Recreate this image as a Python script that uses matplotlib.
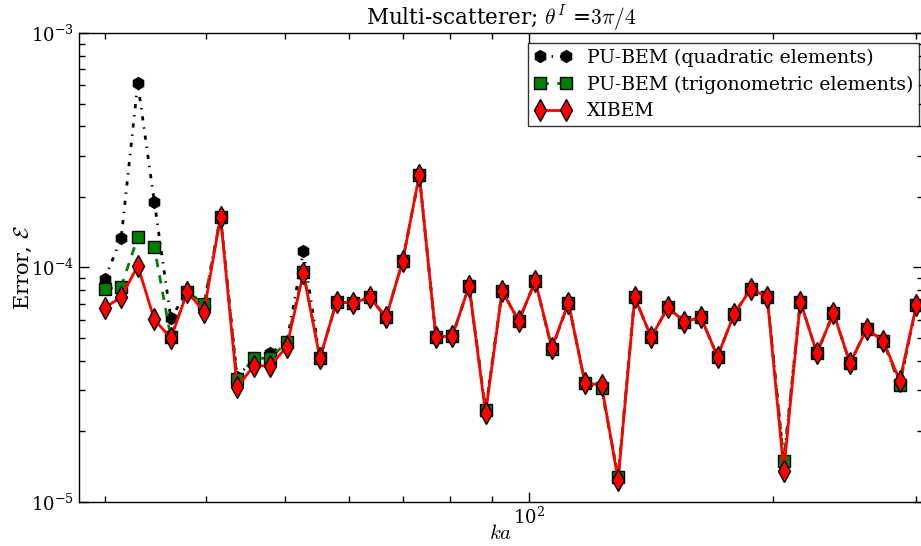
import matplotlib
matplotlib.use('Agg')
import matplotlib.pyplot as plt
from matplotlib.ticker import NullFormatter

plt.rcParams['font.family'] = ['DejaVu Serif']
plt.rcParams['mathtext.fontset'] = 'cm'

# wavenumber ka (log-spaced samples, 30 .. 300)
ka = [30.00, 31.44, 32.96, 34.54, 36.20, 37.94, 39.77, 41.68, 43.69, 45.79,
      47.99, 50.30, 52.72, 55.26, 57.92, 60.70, 63.62, 66.68, 69.89, 73.25,
      76.78, 80.47, 84.34, 88.40, 92.65, 97.11, 101.78, 106.68, 111.81, 117.19,
      122.83, 128.74, 134.93, 141.42, 148.23, 155.36, 162.83, 170.67, 178.88, 187.48,
      196.50, 205.96, 215.87, 226.25, 237.14, 248.55, 260.50, 273.04, 286.18, 300.00]

err_pu_quad = [8.91e-5, 1.33e-4, 6.10e-4, 1.91e-4, 6.07e-5, 7.9e-5, 7.0e-5, 1.65e-4, 3.4e-5, 4.1e-5,
               4.31e-5, 4.8e-5, 1.17e-4, 4.10e-5, 7.15e-5, 7.04e-5, 7.46e-5, 6.13e-5, 1.07e-4, 2.48e-4,
               5.04e-5, 5.10e-5, 8.36e-5, 2.47e-5, 7.94e-5, 5.91e-5, 8.76e-5, 4.48e-5, 7.08e-5, 3.21e-5,
               3.05e-5, 1.28e-5, 7.46e-5, 5.04e-5, 6.76e-5, 5.87e-5, 6.13e-5, 4.17e-5, 6.33e-5, 8.10e-5,
               7.51e-5, 1.50e-5, 7.15e-5, 4.31e-5, 6.41e-5, 3.90e-5, 5.47e-5, 4.87e-5, 3.16e-5, 6.92e-5]

err_pu_trig = [8.07e-5, 8.28e-5, 1.345e-4, 1.22e-4, 5.04e-5, 7.88e-5, 6.99e-5, 1.647e-4, 3.34e-5, 4.10e-5,
               4.10e-5, 4.80e-5, 9.60e-5, 4.10e-5, 7.15e-5, 7.04e-5, 7.46e-5, 6.13e-5, 1.07e-4, 2.48e-4,
               5.04e-5, 5.10e-5, 8.36e-5, 2.47e-5, 7.94e-5, 5.91e-5, 8.76e-5, 4.48e-5, 7.08e-5, 3.21e-5,
               3.05e-5, 1.28e-5, 7.46e-5, 5.04e-5, 6.76e-5, 5.87e-5, 6.13e-5, 4.17e-5, 6.33e-5, 8.10e-5,
               7.51e-5, 1.50e-5, 7.15e-5, 4.31e-5, 6.41e-5, 3.90e-5, 5.47e-5, 4.87e-5, 3.16e-5, 6.92e-5]

err_xibem = [6.74e-5, 7.46e-5, 1.018e-4, 6.01e-5, 4.99e-5, 7.88e-5, 6.48e-5, 1.647e-4, 3.08e-5, 3.81e-5,
             3.81e-5, 4.60e-5, 9.45e-5, 4.10e-5, 7.15e-5, 7.04e-5, 7.46e-5, 6.13e-5, 1.07e-4, 2.48e-4,
             5.04e-5, 5.10e-5, 8.36e-5, 2.39e-5, 7.94e-5, 5.91e-5, 8.76e-5, 4.55e-5, 7.08e-5, 3.21e-5,
             3.16e-5, 1.24e-5, 7.46e-5, 5.04e-5, 6.76e-5, 5.87e-5, 6.13e-5, 4.17e-5, 6.33e-5, 8.10e-5,
             7.51e-5, 1.36e-5, 7.15e-5, 4.31e-5, 6.41e-5, 3.90e-5, 5.47e-5, 4.87e-5, 3.29e-5, 6.92e-5]

labels = ['PU-BEM (quadratic elements)', 'PU-BEM (trigonometric elements)', 'XIBEM']


def create_plot():
    fig = plt.figure(figsize=(9.21, 5.46), dpi=100)
    # right spine sits just past the image edge, as in the original export
    ax = fig.add_axes([0.0858, 0.0806, 0.9164, 0.859])

    ax.plot(ka, err_pu_quad, color='k', linestyle=(0, (1.5, 2.5, 0.5, 2.5)), lw=2,
            marker='h', markersize=8.5, markerfacecolor='k', markeredgecolor='k',
            label=labels[0])
    ax.plot(ka, err_pu_trig, color='#008000', linestyle=(0, (3, 3)), lw=2,
            marker='s', markersize=9, markerfacecolor='#008000', markeredgecolor='k',
            markeredgewidth=1, label=labels[1])
    ax.plot(ka, err_xibem, color='r', linestyle='-', lw=2,
            marker='d', markersize=11, markerfacecolor='r', markeredgecolor='k',
            markeredgewidth=1, label=labels[2])

    ax.set_xscale('log')
    ax.set_yscale('log')
    ax.set_xlim(27.9, 305.7)
    ax.set_ylim(1e-5, 1e-3)
    ax.xaxis.set_minor_formatter(NullFormatter())
    ax.yaxis.set_minor_formatter(NullFormatter())

    ax.tick_params(which='both', direction='in', top=True, right=True, labelsize=13)
    ax.tick_params(which='major', length=7, width=1)
    ax.tick_params(which='minor', length=4, width=1)
    for s in ax.spines.values():
        s.set_linewidth(1)

    ax.set_title(r'Multi-scatterer; $\theta^I$ =$3\pi/4$', fontsize=15.5, pad=4)
    ax.set_xlabel(r'$ka$', fontsize=15, labelpad=-3)
    ax.set_ylabel(r'Error, $\mathcal{E}$', fontsize=15, labelpad=-2)

    leg = ax.legend(loc='upper right', bbox_to_anchor=(919 / 921, 1 - 43 / 546),
                    bbox_transform=fig.transFigure, borderaxespad=0,
                    numpoints=2, fontsize=13.6, fancybox=False,
                    handlelength=2.0, handletextpad=0.8, labelspacing=0.45,
                    borderpad=0.3)
    leg.get_frame().set_edgecolor('k')
    leg.get_frame().set_linewidth(1)

    plt.savefig('out.png', dpi=100)


def main():
    create_plot()


if __name__ == '__main__':
    main()
